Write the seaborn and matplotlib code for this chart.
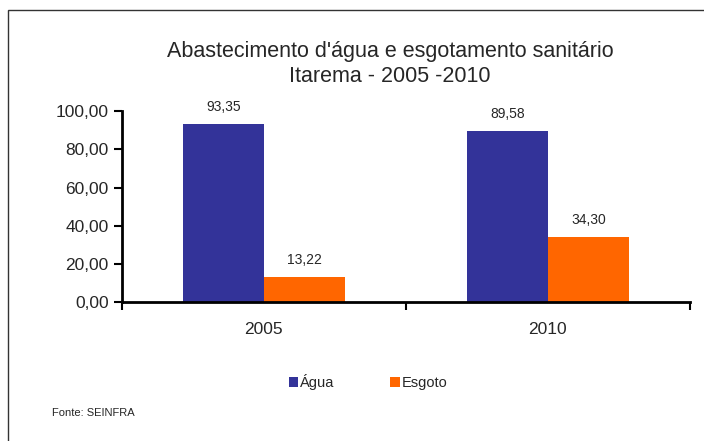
import matplotlib
matplotlib.use("Agg")
import matplotlib.pyplot as plt
import seaborn as sns
import pandas as pd
from matplotlib.patches import Rectangle, Patch

# dados do grafico
anos = ["2005", "2010"]
series = ["Água", "Esgoto"]
agua = [93.35, 89.58]
esgoto = [13.22, 34.30]
cores = ["#333399", "#FF6600"]
yticks = [0, 20, 40, 60, 80, 100]

df = pd.DataFrame({
    "ano": anos * 2,
    "serie": [series[0]] * len(anos) + [series[1]] * len(anos),
    "valor": agua + esgoto,
})

sns.set_style("white")
plt.rcParams["font.family"] = ["Liberation Sans", "DejaVu Sans"]

fig = plt.figure(figsize=(7.04, 4.41), dpi=100)
ax = fig.add_axes([0.173, 0.315, 0.807, 0.433])

sns.barplot(data=df, x="ano", y="valor", hue="serie", palette=cores,
            width=0.57, gap=0, saturation=1, legend=False, ax=ax, edgecolor="none")

for cont in ax.containers:
    ax.bar_label(cont, labels=[f"{v:.2f}".replace(".", ",") for v in cont.datavalues],
                 padding=7, fontsize=10)

ax.set_ylim(0, 100)
ax.set_xlim(-0.5, 1.5)
ax.set_yticks(yticks)
ax.set_yticklabels([f"{v:.2f}".replace(".", ",") for v in yticks], fontsize=12.5)
ax.set_xticks([0, 1])
ax.set_xticklabels(anos, fontsize=12.5)
ax.set_xticks([-0.5, 0.5, 1.5], minor=True)
ax.tick_params(axis="x", which="both", bottom=True)
ax.tick_params(axis="x", which="major", length=0, pad=14)
ax.tick_params(axis="x", which="minor", length=6, width=1.5, direction="out", color="black")
ax.tick_params(axis="y", length=6, width=1.5, direction="out", color="black", left=True)
ax.set_xlabel("")
ax.set_ylabel("")
for s in ["top", "right"]:
    ax.spines[s].set_visible(False)
for s in ["left", "bottom"]:
    ax.spines[s].set_color("black")
    ax.spines[s].set_linewidth(2)

fig.text(0.554, 0.854, "Abastecimento d'água e esgotamento sanitário\nItarema - 2005 -2010",
         ha="center", va="center", fontsize=15.5, linespacing=1.25)

handles = [Patch(facecolor=c, edgecolor="none") for c in cores]
fig.legend(handles, series, loc="center", bbox_to_anchor=(0.523, 0.134), ncol=2,
           frameon=False, fontsize=10.5, handlelength=0.65, handleheight=0.65,
           handletextpad=0.15, columnspacing=3.8)

fig.text(0.074, 0.063, "Fonte: SEINFRA", fontsize=8, ha="left", va="center")

fig.patches.append(Rectangle((8 / 704, -0.1), 1.2, 1.1 - 10 / 441, transform=fig.transFigure,
                             fill=False, edgecolor="#333333", linewidth=1))

fig.savefig("out.png", dpi=100)
